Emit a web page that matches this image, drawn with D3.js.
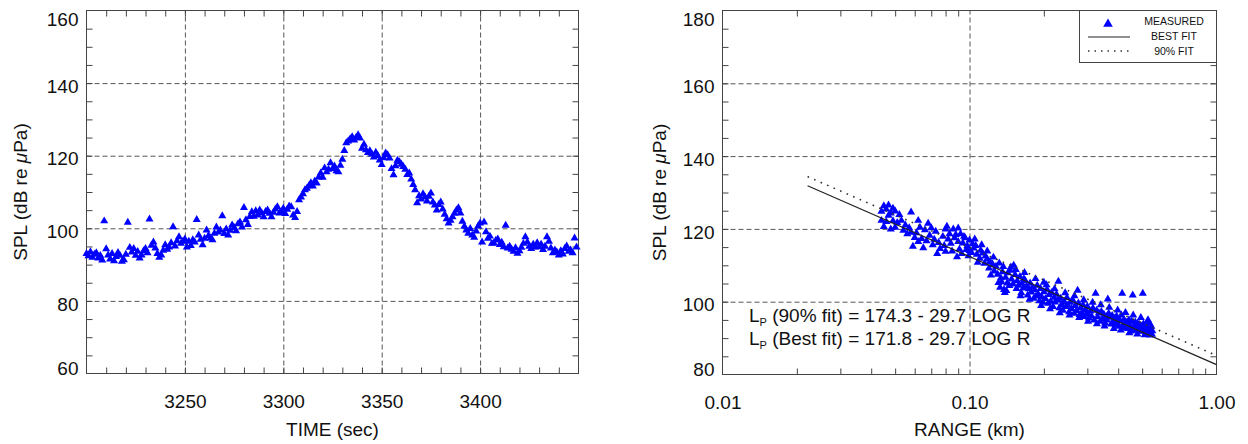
<!DOCTYPE html>
<html>
<head>
<meta charset="utf-8">
<script src="https://cdn.jsdelivr.net/npm/d3@7"></script>
<style>
body { margin: 0; background: #fff; }
svg text { font-family: "Liberation Sans", Arial, Helvetica, sans-serif; fill: #111; }
</style>
</head>
<body>
<svg id="chart" width="1248" height="444"></svg>
<script>
// ---- left panel: SPL vs time, one sample per second from 3200 s ----
var timeStart = 3200, timeStep = 1;
var splTime = [
	93.0, 92.4, 93.5, 92.0, 92.8, 93.2, 91.8, 92.5, 91.2, 102.0,
	94.3, 92.6, 91.5, 93.0, 91.0, 92.2, 93.3, 92.5, 90.9, 91.3,
	92.8, 101.6, 94.7, 93.4, 94.4, 92.5, 93.6, 91.8, 92.6, 93.8,
	94.4, 93.2, 102.5, 95.3, 96.2, 94.5, 93.0, 92.0, 92.6, 93.9,
	95.4, 94.2, 94.8, 96.0, 100.4, 95.1, 96.5, 97.6, 95.8, 96.4,
	97.0, 94.8, 96.4, 95.2, 96.8, 96.2, 102.4, 98.1, 96.9, 95.4,
	97.2, 99.5, 98.0, 97.3, 96.8, 98.6, 100.3, 98.9, 99.5, 103.4,
	98.5, 99.8, 98.1, 99.4, 100.9, 100.2, 99.3, 101.2, 101.7, 100.3,
	105.7, 102.3, 101.0, 103.2, 104.5, 103.3, 104.8, 103.6, 105.0, 104.2,
	103.1, 104.6, 105.0, 104.1, 103.1, 104.4, 105.3, 105.9, 104.2, 104.5,
	105.5, 104.0, 105.2, 106.1, 105.9, 103.6, 102.9, 104.6, 107.8, 108.6,
	109.5, 110.6, 111.0, 111.7, 112.5, 111.6, 113.0, 112.4, 114.1, 115.2,
	114.0, 116.6, 115.5, 116.2, 118.0, 116.4, 117.1, 115.8, 115.5, 117.3,
	119.0, 121.4, 123.5, 124.0, 124.6, 125.2, 124.3, 125.0, 125.7, 124.8,
	122.0, 123.1, 121.6, 120.8, 121.3, 120.4, 119.6, 120.9, 120.0, 118.8,
	117.5, 119.4, 120.7, 120.2, 119.3, 116.4, 114.7, 117.2, 118.7, 118.3,
	117.6, 117.0, 116.2, 114.8, 115.2, 113.5, 112.0, 110.6, 107.0, 108.9,
	108.0, 109.5, 108.6, 107.5, 108.8, 109.7, 107.2, 106.4, 105.0, 106.5,
	107.2, 105.3, 103.8, 102.6, 101.4, 102.2, 103.1, 104.1, 105.0, 105.6,
	104.2, 101.9, 100.5, 99.5, 98.6, 99.9, 98.1, 97.5, 99.2, 100.6,
	101.4, 96.2, 101.7, 99.0, 97.2, 97.8, 95.8, 95.9, 96.7, 97.0,
	95.5, 96.1, 94.9, 100.8, 94.5, 95.0, 94.2, 93.6, 94.6, 93.1,
	93.8, 94.7, 95.8, 97.6, 96.2, 95.0, 94.4, 95.6, 94.8, 96.0,
	94.9, 95.6, 94.1, 95.0, 97.6, 96.4, 94.5, 93.2, 94.0, 93.4,
	92.6, 93.8, 92.9, 94.4, 95.1, 93.6, 94.0, 93.2, 97.3, 94.8
];
var timeLabels = [3250, 3300, 3350, 3400];
var splLabelsLeft = [60, 80, 100, 120, 140, 160];

// ---- right panel: SPL vs range [km, dB] ----
var rangePoints = [
	[0.044,124.8],[0.044,122.3],[0.045,126.3],[0.045,120.6],[0.046,125.4],[0.046,122.0],
	[0.047,126.5],[0.047,123.7],[0.048,124.3],[0.048,119.9],[0.049,122.2],[0.049,125.6],
	[0.050,124.9],[0.050,120.4],[0.051,121.7],[0.052,123.9],[0.053,122.3],[0.054,119.6],
	[0.055,121.0],[0.056,118.6],[0.057,120.3],[0.058,119.0],[0.059,115.2],[0.060,117.6],
	[0.058,124.6],[0.062,122.3],[0.068,121.5],[0.074,113.2],[0.080,113.8],[0.090,120.2],
	[0.061,118.9],[0.062,116.5],[0.063,120.4],[0.064,117.3],[0.065,114.8],[0.066,119.7],
	[0.067,116.7],[0.069,118.2],[0.070,120.3],[0.071,115.6],[0.072,117.1],[0.073,119.3],
	[0.075,116.2],[0.076,114.6],[0.078,117.9],[0.079,115.4],[0.080,119.9],[0.081,120.7],
	[0.082,117.2],[0.083,118.6],[0.084,116.0],[0.085,113.9],[0.086,119.9],[0.087,117.5],
	[0.088,118.4],[0.089,112.3],[0.090,116.5],[0.091,114.4],[0.092,118.6],[0.093,113.2],
	[0.094,116.1],[0.095,117.9],[0.096,117.5],[0.097,114.3],[0.098,115.3],[0.099,112.6],
	[0.100,116.9],[0.100,114.0],[0.102,113.5],[0.103,115.9],[0.104,114.7],[0.106,115.4],
	[0.105,117.2],[0.112,115.6],[0.118,113.9],[0.125,112.2],[0.132,110.6],[0.139,102.5],
	[0.107,113.0],[0.108,110.8],[0.110,111.9],[0.111,114.1],[0.113,113.3],[0.115,110.5],
	[0.116,112.5],[0.118,111.7],[0.120,109.2],[0.121,111.0],[0.122,107.3],[0.124,110.3],
	[0.126,108.4],[0.128,109.7],[0.130,107.5],[0.131,105.2],[0.133,103.9],[0.134,106.5],
	[0.135,105.4],[0.136,108.2],[0.137,109.6],[0.138,103.3],[0.140,106.7],[0.142,105.1],
	[0.141,103.0],[0.147,109.5],[0.154,108.8],[0.161,101.6],[0.167,108.0],[0.175,100.6],
	[0.143,107.9],[0.145,104.4],[0.146,108.6],[0.148,106.2],[0.150,104.8],[0.151,110.0],
	[0.153,107.4],[0.155,103.6],[0.156,105.7],[0.158,104.5],[0.160,106.9],[0.162,102.4],
	[0.163,105.0],[0.165,103.7],[0.166,106.3],[0.168,105.8],[0.170,104.2],[0.172,101.8],
	[0.174,103.5],[0.176,105.1],[0.178,102.6],[0.180,104.0],[0.182,100.9],[0.184,103.2],
	[0.185,106.3],[0.195,98.9],[0.205,104.6],[0.212,98.0],[0.221,103.5],[0.232,96.9],
	[0.186,101.5],[0.188,104.5],[0.190,102.0],[0.192,100.2],[0.194,103.6],[0.196,101.3],
	[0.198,99.8],[0.200,105.3],[0.200,102.7],[0.203,100.8],[0.206,103.4],[0.208,99.5],
	[0.210,101.9],[0.213,100.1],[0.215,102.5],[0.218,98.6],[0.220,101.2],[0.222,99.9],
	[0.225,102.0],[0.228,100.4],[0.229,105.6],[0.231,98.3],[0.234,100.9],[0.236,99.2],
	[0.239,97.6],[0.242,100.0],[0.245,98.6],[0.248,101.1],[0.250,99.0],[0.253,97.2],
	[0.244,102.4],[0.254,96.3],[0.266,101.6],[0.278,95.6],[0.290,100.5],[0.302,94.6],
	[0.256,99.8],[0.259,98.1],[0.262,100.4],[0.265,96.8],[0.268,98.9],[0.271,97.5],
	[0.274,103.1],[0.276,99.6],[0.279,96.4],[0.282,98.3],[0.285,97.0],[0.288,99.1],
	[0.291,95.9],[0.294,97.8],[0.297,96.6],[0.300,96.8],[0.300,98.7],[0.304,95.5],
	[0.315,99.8],[0.328,93.9],[0.340,99.1],[0.352,93.3],[0.368,98.4],[0.384,92.6],
	[0.308,97.4],[0.312,96.0],[0.316,98.2],[0.320,94.9],[0.324,102.3],[0.327,97.6],
	[0.330,95.8],[0.334,96.9],[0.338,94.6],[0.342,97.3],[0.346,95.2],[0.350,96.5],
	[0.354,94.1],[0.358,95.9],[0.360,94.9],[0.363,100.7],[0.366,96.8],[0.370,95.7],
	[0.374,93.8],[0.378,96.2],[0.382,94.5],[0.386,95.4],[0.390,93.6],[0.394,96.0],
	[0.398,97.7],[0.410,92.2],[0.428,97.0],[0.444,91.4],[0.460,96.3],[0.478,91.1],
	[0.396,94.0],[0.400,95.0],[0.404,93.2],[0.408,94.7],[0.412,96.3],[0.415,102.3],
	[0.418,93.5],[0.422,95.1],[0.426,92.8],[0.430,94.3],[0.434,94.3],[0.438,92.6],
	[0.442,95.0],[0.446,93.4],[0.450,91.9],[0.454,94.6],[0.458,101.8],[0.461,93.0],
	[0.465,92.2],[0.469,94.4],[0.472,93.1],[0.476,92.1],[0.480,94.0],[0.484,92.5],
	[0.494,95.6],[0.512,90.9],[0.528,95.0],[0.548,91.0],[0.538,90.8],
	[0.488,93.7],[0.492,91.8],[0.496,93.3],[0.500,92.4],[0.503,102.3],[0.506,93.9],
	[0.510,92.0],[0.514,93.4],[0.518,91.6],[0.522,93.0],[0.526,92.3],[0.530,94.1],
	[0.533,91.7],[0.536,94.0],[0.540,92.6],[0.545,93.2],[0.550,92.0]
];
var rangeLabels = [0.01, 0.1, 1];
var splLabelsRight = [80, 100, 120, 140, 160, 180];

// fit lines: Lp = intercept - slope * log10(R in m)
var fitNames = ["90% fit", "Best fit"];
var fitIntercepts = [174.3, 171.8];
var fitSlope = 29.7;
var fitRangeKm = [0.0221, 1.0];

var svg = d3.select("#chart");
var fontSize = 19;
var markSize = 28;
var gridColor = "#555", frameColor = "#444", markColor = "#0000ff";

function drawPanel(x, y, cfg) {
	var x0 = x.range()[0], x1 = x.range()[1],
		yb = y.range()[0], yt = y.range()[1];
	var g = svg.append("g");

	function clean(sel) { sel.select(".domain").remove(); }

	// dashed grid
	g.append("g").attr("transform", "translate(0," + yb + ")")
		.call(d3.axisBottom(x).tickValues(cfg.xGrid).tickSize(-(yb - yt)).tickFormat(""))
		.call(clean);
	g.append("g").attr("transform", "translate(" + x0 + ",0)")
		.call(d3.axisLeft(y).tickValues(cfg.yGrid).tickSize(-(x1 - x0)).tickFormat(""))
		.call(clean);
	g.selectAll(".tick line")
		.attr("stroke", gridColor)
		.attr("stroke-dasharray", "5,3");

	// minor ticks on all four sides, pointing in
	var t = g.append("g");
	t.append("g").attr("transform", "translate(0," + yb + ")")
		.call(d3.axisBottom(x).tickValues(cfg.xMinor).tickSize(-6).tickFormat("")).call(clean);
	t.append("g").attr("transform", "translate(0," + yt + ")")
		.call(d3.axisTop(x).tickValues(cfg.xMinor).tickSize(-6).tickFormat("")).call(clean);
	t.append("g").attr("transform", "translate(" + x0 + ",0)")
		.call(d3.axisLeft(y).tickValues(cfg.yMinor).tickSize(-6).tickFormat("")).call(clean);
	t.append("g").attr("transform", "translate(" + x1 + ",0)")
		.call(d3.axisRight(y).tickValues(cfg.yMinor).tickSize(-6).tickFormat("")).call(clean);
	t.selectAll(".tick line").attr("stroke", frameColor);

	g.append("rect")
		.attr("x", x0).attr("y", yt)
		.attr("width", x1 - x0).attr("height", yb - yt)
		.attr("fill", "none").attr("stroke", frameColor);

	// tick labels
	var yTop = d3.max(cfg.yLabels), yBot = d3.min(cfg.yLabels);
	g.append("g").attr("transform", "translate(" + x0 + ",0)")
		.call(d3.axisLeft(y).tickValues(cfg.yLabels).tickSize(0).tickPadding(8))
		.call(clean)
		.selectAll("text")
		.attr("font-size", fontSize)
		.attr("dy", function (d) { return d === yTop ? "0.8em" : d === yBot ? "0.05em" : "0.48em"; });
	g.append("g").attr("transform", "translate(0," + yb + ")")
		.call(d3.axisBottom(x).tickValues(cfg.xLabels).tickSize(0).tickPadding(21).tickFormat(cfg.xFormat))
		.call(clean)
		.selectAll("text").attr("font-size", fontSize);
	g.selectAll("text").attr("fill", "#111").attr("font-family", null);

	// axis titles
	g.append("text")
		.attr("x", (x0 + x1) / 2).attr("y", 436)
		.attr("text-anchor", "middle").attr("font-size", fontSize)
		.text(cfg.xTitle);
	var yt2 = g.append("text")
		.attr("transform", "translate(" + cfg.yTitleX + "," + ((yt + yb) / 2) + ") rotate(-90)")
		.attr("text-anchor", "middle").attr("font-size", fontSize);
	yt2.append("tspan").text("SPL (dB re ");
	yt2.append("tspan").attr("font-style", "italic").text("\u03bc");
	yt2.append("tspan").text("Pa)");
	return g;
}

function triangles(sel, size) {
	return sel.attr("d", d3.symbol().type(d3.symbolTriangle).size(size)).attr("fill", markColor);
}

// ---------- left panel ----------
var xTime = d3.scaleLinear().domain([3200, 3450]).range([86.5, 578.5]);
var yLeft = d3.scaleLinear().domain([60, 160]).range([373.5, 10.5]);

drawPanel(xTime, yLeft, {
	xGrid: timeLabels, yGrid: [80, 100, 120, 140],
	xMinor: d3.range(3210, 3450, 10), yMinor: d3.range(65, 160, 5),
	xLabels: timeLabels, yLabels: splLabelsLeft, xFormat: d3.format("d"),
	xTitle: "TIME (sec)", yTitleX: 27
});

svg.append("g").selectAll("path")
	.data(splTime)
	.enter().append("path")
	.call(triangles, markSize)
	.attr("transform", function (d, i) {
		return "translate(" + xTime(timeStart + i * timeStep) + "," + yLeft(d) + ")";
	});

// ---------- right panel ----------
var xRange = d3.scaleLog().domain([0.01, 1]).range([722.5, 1216.5]);
var yRight = d3.scaleLinear().domain([80, 180]).range([374.5, 10.5]);

var logMinor = [];
[0.01, 0.1].forEach(function (dec) {
	for (var k = 2; k <= 9; k++) logMinor.push(dec * k);
});

drawPanel(xRange, yRight, {
	xGrid: [0.1], yGrid: [100, 120, 140, 160],
	xMinor: logMinor, yMinor: d3.range(85, 180, 5),
	xLabels: rangeLabels, yLabels: splLabelsRight, xFormat: d3.format(".2f"),
	xTitle: "RANGE (km)", yTitleX: 666
});

svg.append("g").selectAll("path")
	.data(rangePoints)
	.enter().append("path")
	.call(triangles, markSize)
	.attr("transform", function (d) {
		return "translate(" + xRange(d[0]) + "," + yRight(d[1]) + ")";
	});

function fitValue(i, rKm) { return fitIntercepts[i] - fitSlope * Math.log10(rKm * 1000); }
var fitLine = d3.line()
	.x(function (d) { return xRange(d[0]); })
	.y(function (d) { return yRight(d[1]); });

// best fit (solid) and 90% fit (dotted)
svg.append("path")
	.attr("d", fitLine(fitRangeKm.map(function (r) { return [r, fitValue(1, r)]; })))
	.attr("fill", "none").attr("stroke", "#222").attr("stroke-width", 1.2);
svg.append("path")
	.attr("d", fitLine(fitRangeKm.map(function (r) { return [r, fitValue(0, r)]; })))
	.attr("fill", "none").attr("stroke", "#333").attr("stroke-width", 1.6)
	.attr("stroke-dasharray", "1.6,5.5");

// equations
fitNames.forEach(function (name, i) {
	var txt = svg.append("text")
		.attr("x", 749).attr("y", 322 + i * 23)
		.attr("font-size", fontSize);
	txt.append("tspan").text("L");
	txt.append("tspan").attr("font-size", 11).attr("dy", 4).text("P");
	txt.append("tspan").attr("dy", -4)
		.text(" (" + name + ") = " + fitIntercepts[i].toFixed(1) + " - " + fitSlope.toFixed(1) + " LOG R");
});

// legend
var leg = svg.append("g");
leg.append("rect")
	.attr("x", 1079.5).attr("y", 10.5).attr("width", 137).attr("height", 52)
	.attr("fill", "#fff").attr("stroke", frameColor);
leg.append("path").call(triangles, 40).attr("transform", "translate(1108,24)");
leg.append("line").attr("x1", 1088).attr("x2", 1130).attr("y1", 37).attr("y2", 37)
	.attr("stroke", "#222").attr("stroke-width", 1);
leg.append("line").attr("x1", 1088).attr("x2", 1130).attr("y1", 51).attr("y2", 51)
	.attr("stroke", "#333").attr("stroke-width", 1.4).attr("stroke-dasharray", "1.5,5");
["MEASURED", "BEST FIT", "90% FIT"].forEach(function (s, i) {
	leg.append("text")
		.attr("x", 1174).attr("y", 25 + i * 15)
		.attr("text-anchor", "middle").attr("font-size", 10.5)
		.text(s);
});
</script>
</body>
</html>
